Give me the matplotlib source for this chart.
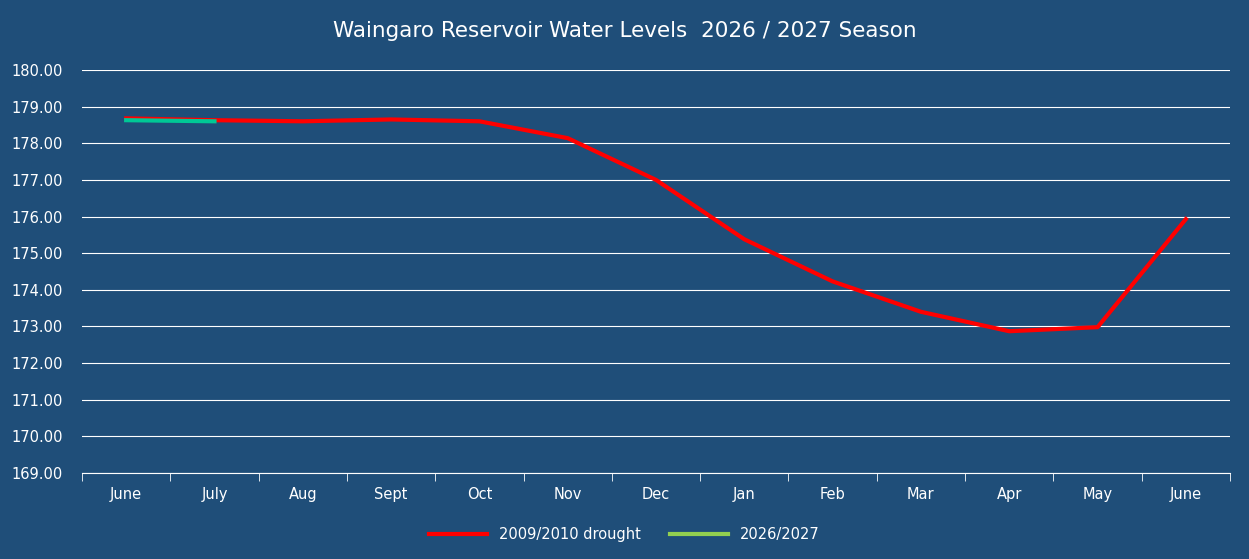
import matplotlib.pyplot as plt

months = ["June", "July", "Aug", "Sept", "Oct", "Nov", "Dec", "Jan", "Feb", "Mar", "Apr", "May", "June"]
drought_2009 = [178.68, 178.63, 178.60, 178.65, 178.60, 178.14, 177.00, 175.38, 174.23, 173.40, 172.87, 172.98, 175.93]
season_2026 = [178.63, 178.60]

bg = "#1F4E79"
fig = plt.figure(figsize=(12.49, 5.59), dpi=100, facecolor=bg)
ax = fig.add_axes([82 / 1249, 1 - 473 / 559, 1148 / 1249, 403 / 559], facecolor=bg)

x = list(range(len(months)))
ax.plot(x, drought_2009, color="#FF0000", lw=3, label="2009/2010 drought")
ax.plot(x[:len(season_2026)], season_2026, color="#00C896", lw=3, label="2026/2027")

ax.set_xlim(-0.5, len(months) - 0.5)
ax.set_ylim(169, 180)
ax.set_yticks(range(169, 181))
ax.set_yticklabels([f"{v:.2f}" for v in range(169, 181)], color="white", fontsize=10.5)
ax.set_xticks(x)
ax.set_xticklabels(months, color="white", fontsize=10.5)
ax.tick_params(axis="y", length=0, pad=14)
ax.tick_params(axis="x", length=0, pad=10)
ax.set_xticks([i - 0.5 for i in range(len(months) + 1)], minor=True)
ax.tick_params(axis="x", which="minor", length=6, color="white", direction="out")
ax.grid(axis="y", color="white", lw=0.8)
for s in ["top", "right", "left"]:
    ax.spines[s].set_visible(False)
ax.spines["bottom"].set_color("white")

fig.text(0.5, 0.945, "Waingaro Reservoir Water Levels  2026 / 2027 Season",
         ha="center", va="center", color="white", fontsize=15.5)
leg = fig.legend(loc="center", bbox_to_anchor=(0.5, 0.043), ncol=2, frameon=False,
                 fontsize=10.5, handlelength=4, columnspacing=2)
leg.get_lines()[1].set_color("#92D050")
for t in leg.get_texts():
    t.set_color("white")

fig.savefig("out.png", dpi=100, facecolor=bg)
